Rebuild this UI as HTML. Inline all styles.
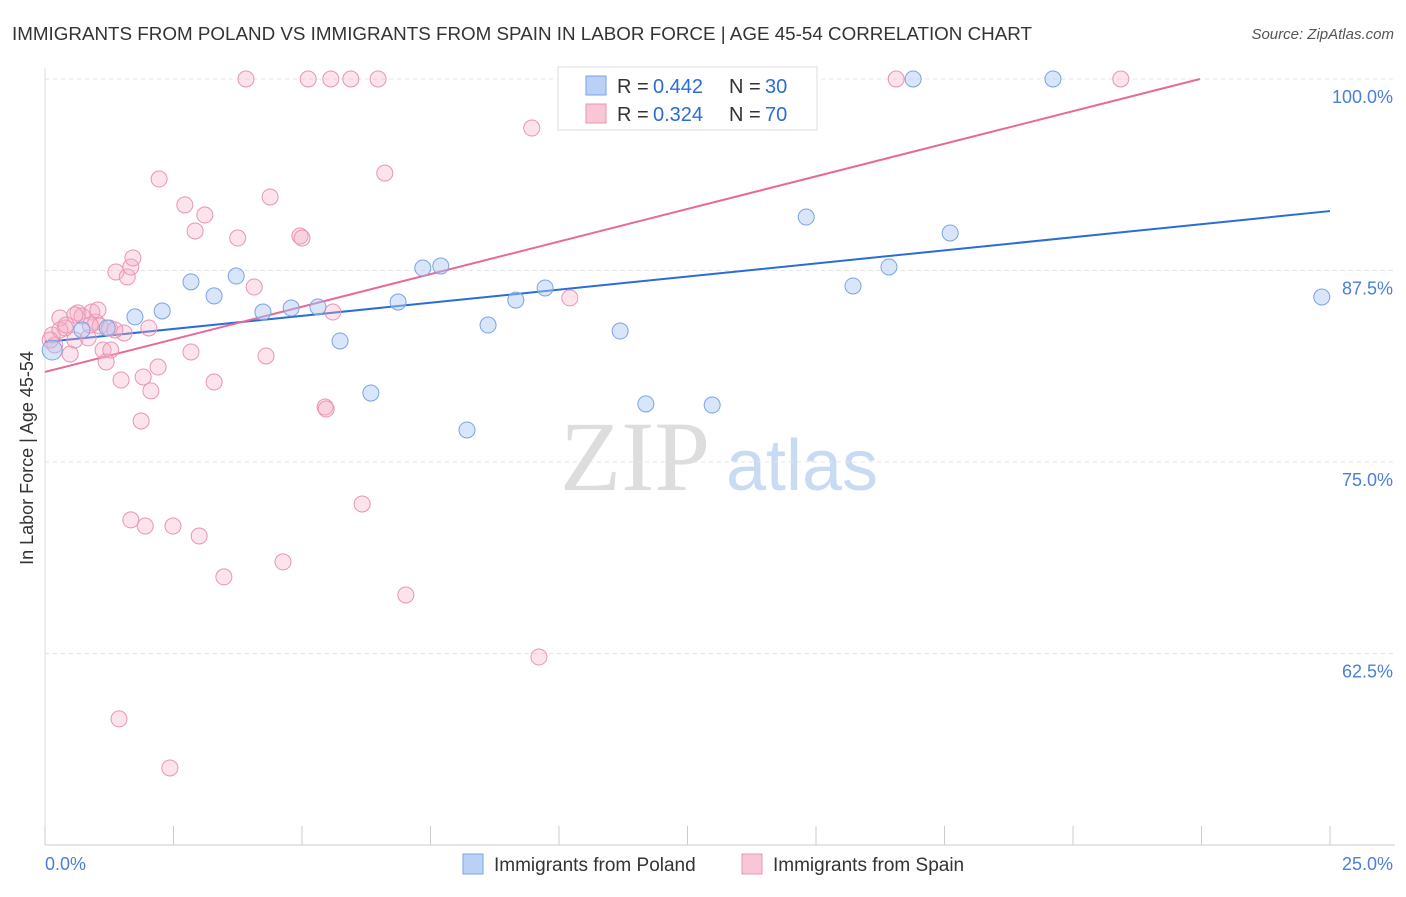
<!DOCTYPE html>
<html><head><meta charset="utf-8"><style>
body{margin:0;background:#fff;font-family:"Liberation Sans",sans-serif;}
</style></head><body>
<svg id="c" width="1406" height="892" style="font-family:'Liberation Sans',sans-serif">
<text x="12" y="40" font-size="18" fill="#333" textLength="1020" lengthAdjust="spacingAndGlyphs">IMMIGRANTS FROM POLAND VS IMMIGRANTS FROM SPAIN IN LABOR FORCE | AGE 45-54 CORRELATION CHART</text>
<text x="1394" y="39" font-size="15" fill="#555" font-style="italic" text-anchor="end">Source: ZipAtlas.com</text>
<text x="33" y="458" font-size="18" fill="#333" text-anchor="middle" transform="rotate(-90 33 458)">In Labor Force | Age 45-54</text>
<g><text x="635" y="490" font-size="100" fill="#ddd" style="font-family:'Liberation Serif',serif" text-anchor="middle">ZIP</text><text x="802" y="490" font-size="72" fill="#c9dbf3" text-anchor="middle">atlas</text></g>
<g id="grid"></g><g id="axes"></g><g id="lines"></g><g id="pts"></g>
<g>
<rect x="558" y="67" width="259" height="63" fill="#fff" stroke="#ddd"/>
<rect x="586" y="76" width="20" height="19" fill="#b9d1f5" stroke="#7aa3e5"/>
<rect x="586" y="104" width="20" height="19" fill="#f9c6d6" stroke="#e895b3"/>
<text x="617" y="93" font-size="20" fill="#333">R =</text><text x="653" y="93" font-size="20" fill="#2a6dd6">0.442</text>
<text x="729" y="93" font-size="20" fill="#333">N =</text><text x="765" y="93" font-size="20" fill="#2a6dd6">30</text>
<text x="617" y="121" font-size="20" fill="#333">R =</text><text x="653" y="121" font-size="20" fill="#2a6dd6">0.324</text>
<text x="729" y="121" font-size="20" fill="#333">N =</text><text x="765" y="121" font-size="20" fill="#2a6dd6">70</text>
</g>
<g>
<rect x="463" y="854" width="20" height="20" fill="#b9d1f5" stroke="#7aa3e5"/>
<text x="494" y="871" font-size="19" fill="#333">Immigrants from Poland</text>
<rect x="742" y="854" width="20" height="20" fill="#f9c6d6" stroke="#e895b3"/>
<text x="773" y="871" font-size="19" fill="#333">Immigrants from Spain</text>
</g>
</svg>
<script>
const polandX=[0.14,0.72,1.21,1.75,2.28,2.84,3.29,3.72,4.24,4.79,5.31,5.74,6.34,6.87,7.35,7.70,8.21,8.62,9.16,9.73,11.19,11.69,12.98,14.81,15.72,16.42,16.89,17.61,19.61,24.84];
const polandY=[82.31,83.62,83.75,84.47,84.86,86.76,85.84,87.14,84.79,85.05,85.12,82.90,79.50,85.44,87.66,87.79,77.09,83.94,85.57,86.36,83.55,78.79,78.72,90.99,86.49,87.73,100,89.95,100,85.77];
const spainX=[0.14,0.19,0.29,0.39,0.49,0.58,0.64,0.72,0.84,0.91,0.99,1.07,1.13,1.19,1.25,1.28,1.38,1.48,1.54,1.60,1.67,1.71,1.87,1.91,2.02,2.06,2.20,2.22,1.67,1.95,2.49,2.72,2.84,2.92,3.00,3.11,3.29,3.48,3.75,3.91,4.07,4.30,4.38,4.63,4.96,5.00,5.12,5.45,5.47,5.56,5.60,5.95,6.17,6.48,6.61,7.02,9.47,9.61,10.21,16.56,20.93,1.44,2.43,0.88,0.29,0.58,1.03,1.36,0.41,0.10];
const spainY=[83.29,82.64,84.40,83.75,82.05,82.96,84.73,84.53,83.10,84.79,84.14,83.88,82.31,81.53,83.75,82.31,87.40,80.35,83.42,87.08,87.73,88.32,77.68,80.55,83.75,79.64,81.20,93.47,71.22,70.82,70.82,91.78,82.18,90.08,70.17,91.12,80.22,67.50,89.62,100,86.42,81.92,92.30,68.48,89.75,89.62,100,78.59,78.46,100,84.79,100,72.26,100,93.86,66.32,96.80,62.27,85.71,100,100,58.23,55.03,83.94,83.62,84.60,84.92,83.62,83.94,82.96];
const trendPoland=[82.83,91.38];
const trendSpainStart=80.88, trendSpainSlope=0.851, trendSpainEndX=22.47;
const yTicks=[100,87.5,75,62.5];
const yTickLabels=["100.0%","87.5%","75.0%","62.5%"];
const xLabels=["0.0%","25.0%"];
const ns="http://www.w3.org/2000/svg";
const X=v=>45+v*51.4, Y=v=>79+(100-v)*15.32;
function mk(t,a,p){const e=document.createElementNS(ns,t);for(const k in a)e.setAttribute(k,a[k]);document.getElementById(p).appendChild(e);return e;}
yTicks.forEach((t,i)=>{
 const g=mk('line',{x1:45,x2:1395,y1:Y(t),y2:Y(t),stroke:'#e4e4e4','stroke-dasharray':'4 4'},'grid');
 
 
 const l=mk('text',{x:1393,y:Y(t)+24,'font-size':18,fill:'#4a7fd6','text-anchor':'end'},'axes');l.textContent=yTickLabels[i];
 
 
});
const ax=mk('line',{x1:45,x2:1395,y1:845,y2:845,stroke:'#ccc'},'axes');


const ay=mk('line',{x1:45,x2:45,y1:68,y2:845,stroke:'#ddd'},'axes');


for(let i=0;i<=10;i++){const t=mk('line',{x1:X(i*2.5),x2:X(i*2.5),y1:826,y2:845,stroke:'#ccc'},'axes');
 
 }
[[0,'start'],[25,'end']].forEach(([v,a],i)=>{const l=mk('text',{x:X(v)+(i?63:0),y:870,'font-size':18,fill:'#4a7fd6','text-anchor':a},'axes');l.textContent=xLabels[i];
 
 });
spainX.forEach((x,i)=>{const c=mk('circle',{cx:X(x),cy:Y(spainY[i]),r:8,fill:'rgba(247,175,200,0.35)',stroke:'#e895b3','stroke-width':1},'pts');
 
 });
polandX.forEach((x,i)=>{const c=mk('circle',{cx:X(x),cy:Y(polandY[i]),r:i==0?10:8,fill:'rgba(170,200,245,0.45)',stroke:'#7aa3e5','stroke-width':1},'pts');
 
 });
const lb=mk('line',{x1:X(0),y1:Y(trendPoland[0]),x2:X(25),y2:Y(trendPoland[1]),stroke:'#2a6dd6','stroke-width':2},'lines');


const lp=mk('line',{x1:X(0),y1:Y(trendSpainStart),x2:X(trendSpainEndX),y2:Y(trendSpainStart+trendSpainSlope*trendSpainEndX),stroke:'#e8689a','stroke-width':2},'lines');


</script>
</body></html>
